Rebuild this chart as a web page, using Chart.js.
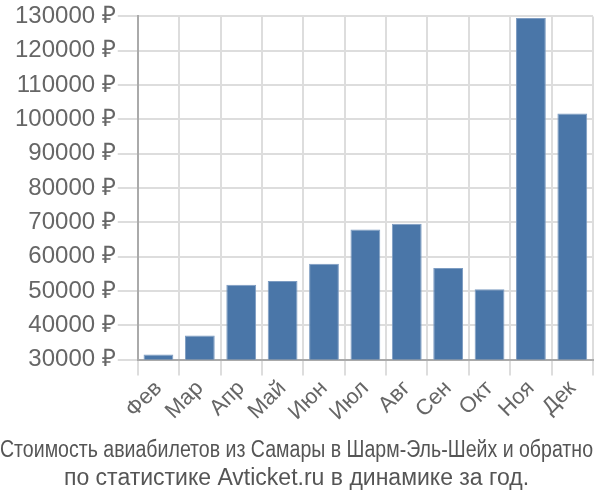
<!DOCTYPE html>
<html>
<head>
<meta charset="utf-8">
<script src="https://cdn.jsdelivr.net/npm/chart.js@4"></script>
<style>
  body { margin: 0; background: #fff; }
  #wrap { width: 600px; height: 500px; }
</style>
</head>
<body>
<div id="wrap"><canvas id="priceChart"></canvas></div>
<script>
const months = ["Фев", "Мар", "Апр", "Май", "Июн", "Июл", "Авг", "Сен", "Окт", "Ноя", "Дек"];
const prices = [31500, 37000, 51800, 52900, 57900, 67900, 69600, 56700, 50500, 129500, 101700];
const yTicks = [30000, 40000, 50000, 60000, 70000, 80000, 90000, 100000, 110000, 120000, 130000];
const titleLines = [
  "Стоимость авиабилетов из Самары в Шарм-Эль-Шейх и обратно",
  "по статистике Avticket.ru в динамике за год."
];

const priceCtx = document.querySelector("#priceChart");

Chart.defaults.font.family = "'Liberation Sans', Arial, sans-serif";
Chart.defaults.color = "#666";

// bar chart of monthly prices
const priceChart = new Chart(priceCtx, {
  type: "bar",
  data: {
    labels: months,
    datasets: [
      {
        data: prices,
        backgroundColor: "#4a76a8",
        borderColor: "#7d9cc2",
        borderWidth: 1,
        barPercentage: 0.72,
        categoryPercentage: 1,
      },
    ],
  },
  options: {
    responsive: true,
    maintainAspectRatio: false,
    animation: false,
    layout: { padding: { left: 0, right: 7, top: 0, bottom: 0 } },
    plugins: {
      legend: { display: false },
      tooltip: { enabled: false },
      title: {
        display: true,
        position: "bottom",
        text: titleLines,
        color: "#555",
        font: { size: 23, weight: "normal" },
        padding: { top: 11, bottom: 8 },
        lineHeight: 1.32,
      },
    },
    scales: {
      x: {
        grid: { color: "#ddd", lineWidth: 2, offset: true, tickLength: 16 },
        border: { color: "#aaa", width: 2 },
        ticks: {
          font: { size: 22 },
          autoSkip: false,
          maxRotation: 45,
          minRotation: 45,
          padding: 0,
        },
      },
      y: {
        min: 30000,
        max: 130000,
        afterBuildTicks: (axis) => {
          axis.ticks = yTicks.map((v) => ({ value: v }));
        },
        afterFit: (axis) => {
          axis.width += 13; // room left of the labels
        },
        grid: { color: "#ddd", lineWidth: 2, tickLength: 20 },
        border: { color: "#aaa", width: 2 },
        ticks: {
          font: { size: 24 },
          padding: 2,
          callback: (v) => v + " ₽",
        },
      },
    },
  },
});
</script>
</body>
</html>
